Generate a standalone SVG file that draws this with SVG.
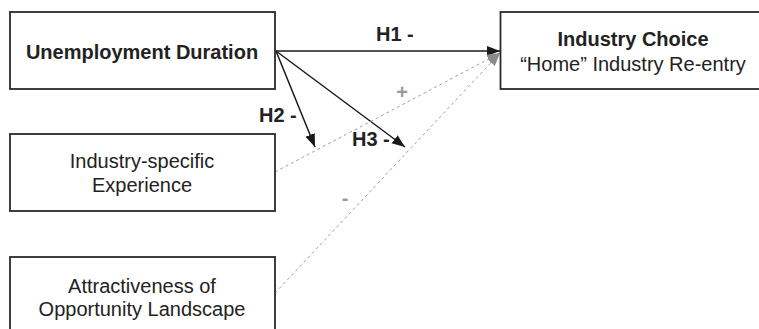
<svg xmlns="http://www.w3.org/2000/svg" width="759" height="329" viewBox="0 0 759 329">
<style>
.box{fill:#fff;stroke:#2a2a2a;stroke-width:1.8}
.t{font-family:"Liberation Sans",Arial,sans-serif;font-size:20px;fill:#222;text-anchor:middle}
.b{font-weight:bold}
.lbl{font-family:"Liberation Sans",Arial,sans-serif;font-size:20px;font-weight:bold;fill:#222}
.sg{font-family:"Liberation Sans",Arial,sans-serif;font-size:20px;font-weight:bold;fill:#9a9a9a;text-anchor:middle}
.solid{stroke:#1a1a1a;stroke-width:1.5;fill:none}
.dash{stroke:#a0a0a0;stroke-width:1;stroke-dasharray:3 3;fill:none}
</style>
<defs>
<marker id="ab" markerUnits="userSpaceOnUse" markerWidth="14" markerHeight="12" refX="13" refY="5" orient="auto">
<path d="M0,0 L13,5 L0,10 Z" fill="#1a1a1a"/>
</marker>
<marker id="ag" markerUnits="userSpaceOnUse" markerWidth="14" markerHeight="12" refX="13" refY="5" orient="auto">
<path d="M0,0 L13,5 L0,10 Z" fill="#8a8a8a"/>
</marker>
</defs>
<g id="connectors">
<line class="solid" x1="276" y1="51" x2="500" y2="51" marker-end="url(#ab)"/>
<line class="solid" x1="276" y1="51" x2="315" y2="147" marker-end="url(#ab)"/>
<line class="solid" x1="276" y1="51" x2="405" y2="147" marker-end="url(#ab)"/>
<line class="dash" x1="275" y1="172" x2="500" y2="53" marker-end="url(#ag)"/>
<line class="dash" x1="275" y1="293" x2="500" y2="53" marker-end="url(#ag)"/>
<text class="lbl" x="376" y="40.5">H1 -</text>
<text class="lbl" x="259" y="121.5">H2 -</text>
<text class="lbl" x="352" y="145.5">H3 -</text>
<text class="sg" x="402" y="99">+</text>
<text class="sg" x="345" y="205">-</text>
</g>
<g id="unemployment">
<rect class="box" x="10" y="12" width="265" height="77"/>
<text class="t b" x="142" y="59">Unemployment Duration</text>
</g>
<g id="experience">
<rect class="box" x="10" y="134" width="265" height="77"/>
<text class="t" x="142" y="168">Industry-specific</text>
<text class="t" x="142" y="191.5">Experience</text>
</g>
<g id="landscape">
<rect class="box" x="10" y="257" width="265" height="90"/>
<text class="t" x="142" y="292.5">Attractiveness of</text>
<text class="t" x="142" y="316">Opportunity Landscape</text>
</g>
<g id="choice">
<rect class="box" x="500.5" y="12" width="280" height="77"/>
<text class="t b" x="633" y="45.5">Industry Choice</text>
<text class="t" x="633" y="70.5">“Home” Industry Re-entry</text>
</g>
</svg>
